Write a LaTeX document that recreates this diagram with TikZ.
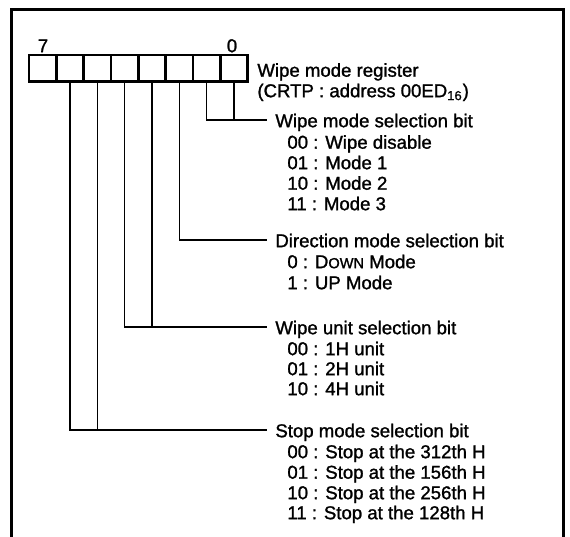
\documentclass[tikz,border=0pt]{standalone}
\usepackage{fontspec}
\setmainfont[FakeBold=1.3]{Liberation Sans}
\begin{document}
\begin{tikzpicture}[x=0.5pt,y=-0.5pt]
\tikzset{
  txt/.style={anchor=west, inner sep=0pt, text height=0.72em, text depth=0pt, font=\fontsize{9.3}{10}\selectfont},
  head/.style={txt, inner xsep=4pt},
  numl/.style={txt, anchor=center},
  conn/.style={line width=0.55pt},
  cell/.style={draw, line width=1.2pt, minimum width=13.67pt, minimum height=13.25pt, inner sep=0pt, outer sep=0pt},
  frame/.style={line width=1.5pt}
}
\useasboundingbox (0,0) rectangle (570,537);
% frame
\draw[frame] (12,537) -- (12,9) -- (564,9) -- (564,537);
% register cells
\foreach \k in {0,...,7}
  \node[cell] (b\k) at ({29+(7.5-\k)*27.33},68.25) {};
\node[numl] (n7) at (43,45) {7};
\node[numl] (n0) at (232,45) {0};
\node[txt] (r1) at (257,69.5) {Wipe mode register};
\node[txt] (r2) at (257,90) {(CRTP : address 00ED\textsubscript{16})};
% wipe mode selection
\node[head] (h0) at (267,120) {Wipe mode selection bit};
\node[txt] (a0) at (287,141.5) {00 : Wipe disable};
\node[txt] (a1) at (287,162) {01 : Mode 1};
\node[txt] (a2) at (287,182.5) {10 : Mode 2};
\node[txt] (a3) at (287,203) {11 : Mode 3};
% direction
\node[head] (h1) at (267,240) {Direction mode selection bit};
\node[txt] (d0) at (287,261) {0 : D{\fontsize{7.3}{8}\selectfont OWN} Mode};
\node[txt] (d1) at (287,282) {1 : UP Mode};
% wipe unit
\node[head] (h2) at (267,327) {Wipe unit selection bit};
\node[txt] (u0) at (287,348) {00 : 1H unit};
\node[txt] (u1) at (287,368) {01 : 2H unit};
\node[txt] (u2) at (287,388) {10 : 4H unit};
% stop mode
\node[head] (h3) at (267,430) {Stop mode selection bit};
\node[txt] (s0) at (287,451) {00 : Stop at the 312th H};
\node[txt] (s1) at (287,471.5) {01 : Stop at the 156th H};
\node[txt] (s2) at (287,492) {10 : Stop at the 256th H};
\node[txt] (s3) at (287,512) {11 : Stop at the 128th H};
% connectors
\draw[conn] (b1.south) |- (h0.west);
\draw[conn] (b0.south) |- (h0.west);
\draw[conn] (b2.south) |- (h1.west);
\draw[conn] (b4.south) |- (h2.west);
\draw[conn] (b3.south) |- (h2.west);
\draw[conn] (b6.south) |- (h3.west);
\draw[conn] (b5.south) |- (h3.west);
\end{tikzpicture}
\end{document}
